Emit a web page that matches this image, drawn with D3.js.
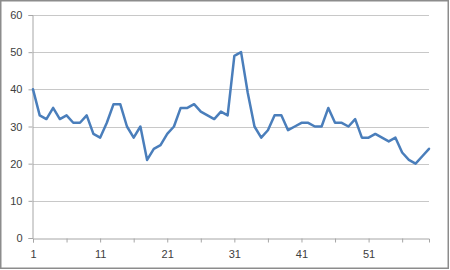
<!DOCTYPE html>
<html>
<head>
<meta charset="utf-8">
<script src="https://cdn.jsdelivr.net/npm/d3@7"></script>
<style>
html,body{margin:0;padding:0;background:#fff;}
svg{display:block;}
text{font-family:"Liberation Sans",Arial,sans-serif;font-size:11px;fill:#404040;}
</style>
</head>
<body>
<svg id="chart" width="450" height="270"></svg>
<script>
const values = [40,33,32,35,32,33,31,31,33,28,
                27,31,36,36,30,27,30,21,24,25,
                28,30,35,35,36,34,33,32,34,33,
                49,50,39,30,27,29,33,33,29,30,
                31,31,30,30,35,31,31,30,32,27,
                27,28,27,26,27,23,21,20,22,24];
const categories = values.map((d,i)=>i+1);
const yTicks = [0,10,20,30,40,50,60];
const xTickCats = [1,6,11,16,21,26,31,36,41,46,51,56];
const xLabelCats = [1,11,21,31,41,51];

(function(){
const svg = d3.select("#chart");
const mLeft = 33, mRight = 429, mTop = 15, mBottom = 238;

svg.append("rect").attr("x",0.75).attr("y",0.75).attr("width",447.5).attr("height",267.5)
  .attr("fill","#fff").attr("stroke","#8c8c8c").attr("stroke-width",1.5);

const x = d3.scaleLinear().domain([1, categories.length]).range([mLeft, mRight]);
const y = d3.scaleLinear().domain([0,60]).range([mBottom, mTop]);

// gridlines
svg.append("g").selectAll("line").data(yTicks.filter(d=>d>0)).join("line")
  .attr("x1",mLeft).attr("x2",mRight)
  .attr("y1",d=>Math.round(y(d))+0.5).attr("y2",d=>Math.round(y(d))+0.5)
  .attr("stroke","#c8c8c8").attr("stroke-width",1.2);

// y axis
const yAxis = svg.append("g").attr("transform",`translate(${mLeft-0.5},0)`)
  .call(d3.axisLeft(y).tickValues(yTicks).tickSize(4).tickPadding(6).tickFormat(d3.format("d")));
yAxis.select(".domain").attr("stroke","#a6a6a6");
yAxis.selectAll(".tick line").attr("stroke","#a6a6a6");
yAxis.selectAll("text").style("font-size","11px").attr("fill","#404040");

// x axis
const xAxis = svg.append("g").attr("transform",`translate(0,${mBottom+0.5})`)
  .call(d3.axisBottom(x).tickValues(xTickCats).tickSize(4).tickPadding(8)
    .tickFormat(d=>xLabelCats.includes(d)?d:""));
xAxis.select(".domain").attr("stroke","#a6a6a6");
xAxis.selectAll(".tick line").attr("stroke","#a6a6a6");
xAxis.selectAll("text").style("font-size","11px").attr("fill","#404040");

// line
const line = d3.line().x((d,i)=>x(categories[i])).y(d=>y(d));
svg.append("path").datum(values)
  .attr("d",line).attr("fill","none")
  .attr("stroke","#4a7ebb").attr("stroke-width",2.5)
  .attr("stroke-linejoin","round").attr("stroke-linecap","round");
})();
</script>
</body>
</html>
